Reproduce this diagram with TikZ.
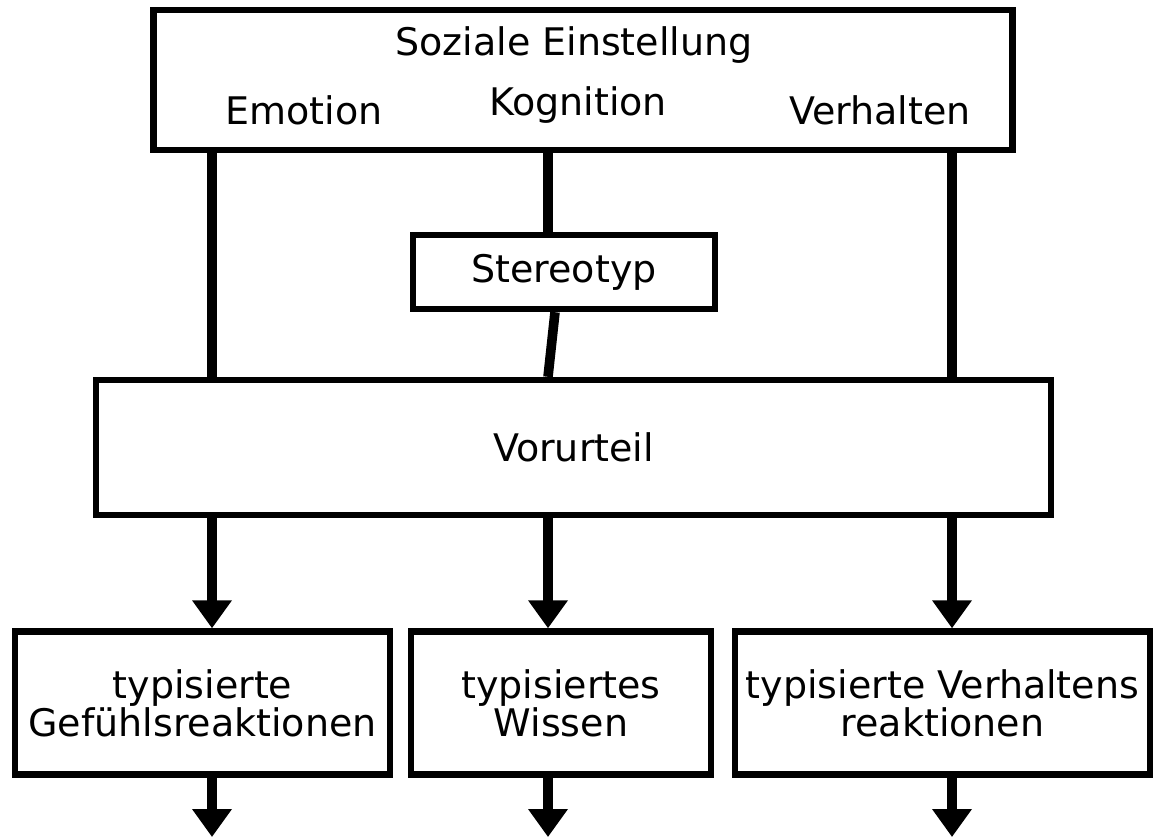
\documentclass[tikz,border=0pt]{standalone}
\usepackage{fontspec}
\setmainfont{DejaVu Sans}
\usetikzlibrary{arrows.meta}
\tikzset{
    box/.style={draw=black, line width=3.2pt, inner sep=0pt, align=center},
    txt/.style={font=\fontsize{19}{19}\selectfont},
    link/.style={black, line width=4.8pt},
    arr/.style={link, -{Triangle[width=19pt,length=14pt]}}
}
\begin{document}
\begin{tikzpicture}[x=0.5pt,y=-0.5pt]
    \useasboundingbox (0,0) rectangle (1170,837);
    % columns
    \coordinate (ce) at (212,0);
    \coordinate (ck) at (548,0);
    \coordinate (ck2) at (555,0);
    \coordinate (cv) at (952,0);
    \node[box, minimum width=429.5pt, minimum height=70pt] (soz) at (583,80) {};
    \node[txt] (titel) at (574,45) {Soziale Einstellung};
    \node[txt] (emo) at (304,110) {Emotion};
    \node[txt] (kog) at (578,105) {Kognition};
    \node[txt] (verh) at (880,110) {Verhalten};
    \node[box, txt, minimum width=151pt, minimum height=37pt] (st) at (564,272) {Stereotyp};
    \node[box, txt, minimum width=477.5pt, minimum height=67.5pt] (vor) at (573.5,447.5) {Vorurteil};
    \node[box, txt, minimum width=187.5pt, minimum height=71.5pt] (b1) at (202.5,703) {typisierte\\Gef\"uhlsreaktionen};
    \node[box, txt, minimum width=150pt, minimum height=71.5pt] (b2) at (561,703) {typisiertes\\Wissen};
    \node[box, txt, minimum width=207.5pt, minimum height=71.5pt] (b3) at (942.5,703) {typisierte Verhaltens\\reaktionen};
    \coordinate (e1) at (212,837);
    \coordinate (e2) at (548,837);
    \coordinate (e3) at (952,837);
    \draw[link] (soz.south -| ce) -- (ce |- vor.north);
    \draw[link] (soz.south -| ck) -- (ck |- st.north);
    \draw[link] (st.south -| ck2) -- (ck |- vor.north);
    \draw[link] (soz.south -| cv) -- (cv |- vor.north);
    \draw[arr] (vor.south -| ce) -- (ce |- b1.north);
    \draw[arr] (vor.south -| ck) -- (ck |- b2.north);
    \draw[arr] (vor.south -| cv) -- (cv |- b3.north);
    \draw[arr] (b1.south -| ce) -- (e1);
    \draw[arr] (b2.south -| ck) -- (e2);
    \draw[arr] (b3.south -| cv) -- (e3);
\end{tikzpicture}
\end{document}
